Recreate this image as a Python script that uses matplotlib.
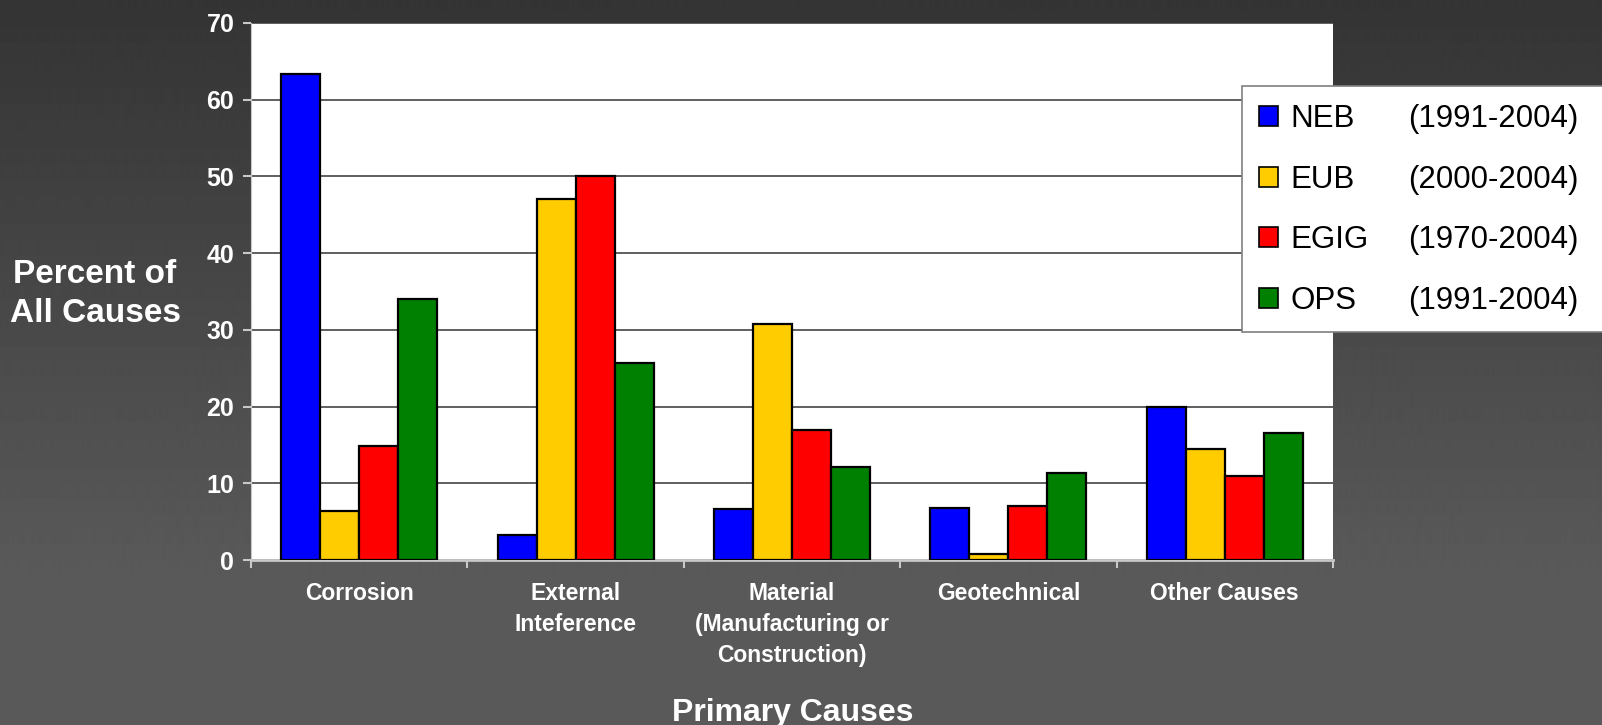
#!/usr/bin/env python3
import numpy as np
import matplotlib
matplotlib.use("Agg")
import matplotlib.pyplot as plt
from matplotlib.patches import Patch, Rectangle

# data
categories = ["Corrosion", "External\nInteference", "Material\n(Manufacturing or\nConstruction)",
              "Geotechnical", "Other Causes"]
series = ["NEB", "EUB", "EGIG", "OPS"]
periods = ["(1991-2004)", "(2000-2004)", "(1970-2004)", "(1991-2004)"]
neb = [63.3, 3.2, 6.7, 6.8, 20.0]
eub = [6.4, 47.0, 30.8, 0.8, 14.5]
egig = [14.8, 50.0, 17.0, 7.0, 11.0]
ops = [34.0, 25.7, 12.1, 11.3, 16.5]
colors = ["#0000FF", "#FFCC00", "#FF0000", "#008000"]

W, H = 1602, 725
plt.rcParams['font.family'] = ['Liberation Sans', 'DejaVu Sans']

fig = plt.figure(figsize=(W / 100, H / 100), dpi=100)

# dark gradient background
bg = fig.add_axes([0, 0, 1, 1], zorder=-10)
rows = np.arange(H)
shade = np.clip(52 + 38 * rows / 580, 0, 90) / 255.0
img = np.repeat(shade[:, None], 2, axis=1)
bg.imshow(img, cmap='gray', vmin=0, vmax=1, aspect='auto', extent=[0, 1, 1, 0])
bg.set_xlim(0, 1)
bg.set_ylim(1, 0)
bg.axis('off')

ax = fig.add_axes([251 / W, 1 - 560 / H, (1333 - 251) / W, (560 - 23) / H])
ax.set_facecolor('white')

x = np.arange(len(categories))
width = 0.18
for i, (vals, c, name) in enumerate(zip([neb, eub, egig, ops], colors, series)):
    ax.bar(x + (i - 1.5) * width, vals, width, color=c, edgecolor='black',
           linewidth=1.6, label=name, zorder=3)

ax.set_xlim(-0.5, len(categories) - 0.5)
ax.set_ylim(0, 70)
ax.set_yticks(range(0, 71, 10))
ax.yaxis.grid(True, color='#444444', linewidth=1.2, zorder=0)
ax.set_axisbelow(True)

# x ticks at category boundaries, labels centred under each group
ax.set_xticks(np.arange(-0.5, len(categories), 1.0))
ax.set_xticklabels([])
ax.set_xticks(x, minor=True)
ax.set_xticklabels(categories, minor=True, fontsize=16.5, fontweight='bold',
                   color='white', linespacing=1.43)
ax.tick_params(axis='x', which='minor', length=0, pad=16)
ax.tick_params(axis='x', which='major', length=6, width=1.5, color='#c8c8c8')
ax.tick_params(axis='y', length=6, width=1.5, color='#c8c8c8', labelsize=18,
               labelcolor='white', pad=6)
for lab in ax.get_yticklabels():
    lab.set_fontweight('bold')

for s in ['top', 'right']:
    ax.spines[s].set_visible(False)
ax.spines['left'].set_color('#c8c8c8')
ax.spines['bottom'].set_color('#c8c8c8')
ax.spines['bottom'].set_linewidth(2)

fig.text(95 / W, 1 - 294 / H, "Percent of\nAll Causes", ha='center', va='center',
         fontsize=24, fontweight='bold', color='white', linespacing=1.3)
fig.text(793 / W, 1 - 713 / H, "Primary Causes", ha='center', va='center',
         fontsize=23, fontweight='bold', color='white')

# legend box running off the right edge
fig.patches.append(Rectangle((1242 / W, 1 - 332 / H), (1620 - 1242) / W, (332 - 86) / H,
                             transform=fig.transFigure, facecolor='white',
                             edgecolor='#7f7f7f', linewidth=1.2, zorder=5))
handles = [Patch(facecolor=c, edgecolor='black', linewidth=1.2) for c in colors]
leg = fig.legend(handles, series, loc='upper left', bbox_to_anchor=(1259 / W, 1 - 104 / H),
                 frameon=False, fontsize=22.5, handlelength=0.6, handleheight=0.6,
                 handletextpad=0.4, labelspacing=0.98, borderaxespad=0, borderpad=0)
leg.set_zorder(6)

fig.canvas.draw()
r = fig.canvas.get_renderer()
for t, p in zip(leg.get_texts(), periods):
    bb = t.get_window_extent(r)
    fig.text(1408 / W, (bb.y0 + bb.y1) / 2 / H, p, ha='left', va='center',
             fontsize=22.5, color='black', zorder=7)

fig.savefig("out.png", dpi=100)
